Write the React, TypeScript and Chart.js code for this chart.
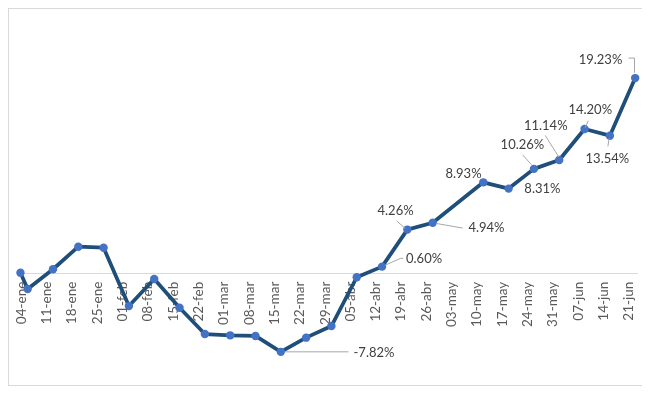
import React, { useEffect, useRef } from 'react';
import { Chart, registerables } from 'chart.js';

Chart.register(...registerables);

// X-axis tick labels and their day-of-year positions (2021)
const tickLabels = ['04-ene', '11-ene', '18-ene', '25-ene', '01-feb', '08-feb', '15-feb', '22-feb', '01-mar', '08-mar', '15-mar', '22-mar', '29-mar', '05-abr', '12-abr', '19-abr', '26-abr', '03-may', '10-may', '17-may', '24-may', '31-may', '07-jun', '14-jun', '21-jun'];
const tickDays = [4, 11, 18, 25, 32, 39, 46, 53, 60, 67, 74, 81, 88, 95, 102, 109, 116, 123, 130, 137, 144, 151, 158, 165, 172];

// Observation dates (day of year) and cumulative return (%)
const pointDays = [4, 6, 13, 20, 27, 34, 41, 48, 55, 62, 69, 76, 83, 90, 97, 104, 111, 118, 132, 139, 146, 153, 160, 167, 174];
const returns = [0, -1.61, 0.34, 2.57, 2.47, -3.29, -0.62, -3.46, -6.06, -6.19, -6.25, -7.82, -6.42, -5.27, -0.45, 0.6, 4.26, 4.94, 8.93, 8.31, 10.26, 11.14, 14.2, 13.54, 19.23];

// Which points carry a data label (indices into the arrays above)
const labelledIndices = [11, 15, 16, 17, 18, 19, 20, 21, 22, 23, 24];

// Label placement (offsets from the point, px) and leader lines
const labelPlacement: { dx: number; dy: number; leader?: number[][] }[] = [
  { dx: 93.2, dy: 0.7, leader: [[4, 0], [67.7, 0]] },
  { dx: 42, dy: -7.5, leader: [[3.3, -1.5], [18.3, -8.2], [21, -8.2]] },
  { dx: -11.8, dy: -18.6, leader: [[-10.6, -8.6], [-2, -1]] },
  { dx: 53.8, dy: 4.7, leader: [[4, 0.8], [30, 5.4]] },
  { dx: -19.8, dy: -8.4 },
  { dx: 33.8, dy: 0.5 },
  { dx: -11.5, dy: -24, leader: [[-11.3, -14], [-2.3, -4]] },
  { dx: -13.5, dy: -34.5, leader: [[-14, -24.5], [-0.3, -2.8]] },
  { dx: 5.7, dy: -19.3, leader: [[3.7, -8.3], [0.7, -1.3]] },
  { dx: -2.5, dy: 23, leader: [[-0.7, 2.7], [-2, 10.7]] },
  { dx: -34.7, dy: -18.7, leader: [[-6.7, -20], [-0.7, -20], [-0.7, -5.4]] },
];

const FONT = 'Lato, "Open Sans", sans-serif';

const overlayPlugin = {
  id: 'excelOverlay',
  beforeDatasetsDraw(chart: any) {
    const { ctx, scales, chartArea } = chart;
    const xs = scales.x;
    const ys = scales.y;
    const y0 = ys.getPixelForValue(0);
    ctx.save();
    ctx.strokeStyle = '#d9d9d9';
    ctx.lineWidth = 1;
    ctx.beginPath();
    ctx.moveTo(xs.getPixelForValue(pointDays[0]) - 0.5, Math.round(y0) + 0.5);
    ctx.lineTo(chartArea.right - 1, Math.round(y0) + 0.5);
    ctx.stroke();
    // tick labels
    ctx.fillStyle = '#595959';
    ctx.font = `13.5px ${FONT}`;
    ctx.textAlign = 'right';
    ctx.textBaseline = 'middle';
    tickLabels.forEach((lab, i) => {
      const x = xs.getPixelForValue(tickDays[i]) + 1;
      ctx.save();
      ctx.translate(x, y0 + 9);
      ctx.rotate(-Math.PI / 2);
      ctx.fillText(lab, 0, 0);
      ctx.restore();
    });
    ctx.restore();
  },
  afterDatasetsDraw(chart: any) {
    const { ctx, scales } = chart;
    const xs = scales.x;
    const ys = scales.y;
    ctx.save();
    labelledIndices.forEach((idx, j) => {
      const p = labelPlacement[j];
      const px = xs.getPixelForValue(pointDays[idx]);
      const py = ys.getPixelForValue(returns[idx]);
      if (p.leader) {
        ctx.strokeStyle = '#a6a6a6';
        ctx.lineWidth = 1;
        ctx.beginPath();
        p.leader.forEach(([lx, ly], k) => {
          if (k === 0) ctx.moveTo(px + lx, py + ly);
          else ctx.lineTo(px + lx, py + ly);
        });
        ctx.stroke();
      }
      ctx.fillStyle = '#404040';
      ctx.font = `13px ${FONT}`;
      ctx.textAlign = 'center';
      ctx.textBaseline = 'middle';
      ctx.fillText(returns[idx].toFixed(2) + '%', px + p.dx, py + p.dy);
    });
    ctx.restore();
  },
};

export default function App() {
  const ref = useRef<HTMLCanvasElement>(null);

  useEffect(() => {
    if (!ref.current) return;
    const chart = new Chart(ref.current, {
      type: 'line',
      data: {
        datasets: [
          {
            data: pointDays.map((d, i) => ({ x: d, y: returns[i] })),
            borderColor: '#1f4e79',
            borderWidth: 3.75,
            borderJoinStyle: 'round',
            borderCapStyle: 'round',
            pointRadius: 4.2,
            pointBackgroundColor: '#4472c4',
            pointBorderColor: '#4472c4',
            pointBorderWidth: 0,
            tension: 0,
            clip: false as any,
          },
        ],
      },
      options: {
        animation: false,
        responsive: false,
        devicePixelRatio: 1,
        layout: { padding: { left: 1.43, right: 3.4, top: 61.3, bottom: 11.1 } },
        plugins: { legend: { display: false }, tooltip: { enabled: false }, title: { display: false } },
        scales: {
          x: { type: 'linear', min: 2, max: 175, display: false },
          y: { type: 'linear', min: -10, max: 20, display: false },
        },
      },
      plugins: [overlayPlugin],
    });
    return () => chart.destroy();
  }, []);

  return (
    <div style={{ position: 'relative', width: 636, height: 378, boxSizing: 'border-box', border: '1px solid #d9d9d9', background: '#fff' }}>
      <canvas ref={ref} width={634} height={376} style={{ display: 'block', width: 634, height: 376 }} />
      <div style={{ position: 'absolute', left: 636, top: 360, width: 2, height: 16, background: '#000' }} />
    </div>
  );
}
